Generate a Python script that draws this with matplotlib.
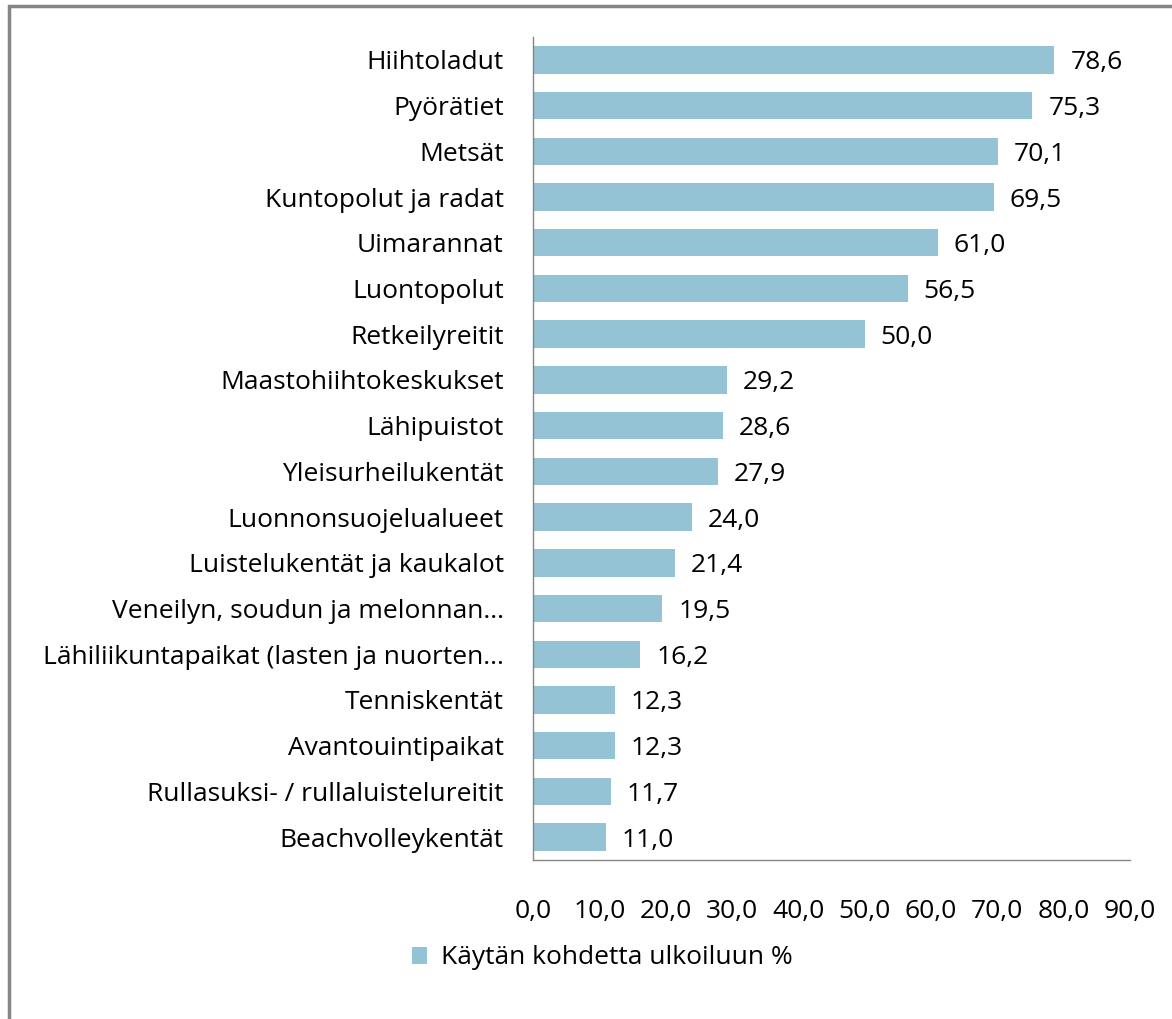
import numpy as np
import matplotlib.pyplot as plt
from matplotlib.patches import Rectangle

plt.rcParams['font.family'] = ['Open Sans', 'DejaVu Sans']

categories = [
    'Hiihtoladut', 'Pyörätiet', 'Metsät', 'Kuntopolut ja radat', 'Uimarannat',
    'Luontopolut', 'Retkeilyreitit', 'Maastohiihtokeskukset', 'Lähipuistot',
    'Yleisurheilukentät', 'Luonnonsuojelualueet', 'Luistelukentät ja kaukalot',
    'Veneilyn, soudun ja melonnan...', 'Lähiliikuntapaikat (lasten ja nuorten...',
    'Tenniskentät', 'Avantouintipaikat', 'Rullasuksi- / rullaluistelureitit',
    'Beachvolleykentät',
]
values = [78.6, 75.3, 70.1, 69.5, 61.0, 56.5, 50.0, 29.2, 28.6, 27.9, 24.0,
          21.4, 19.5, 16.2, 12.3, 12.3, 11.7, 11.0]
ticks = np.arange(0, 91, 10)
series_name = 'Käytän kohdetta ulkoiluun %'
bar_color = '#93C3D4'
fs = 19

fig = plt.figure(figsize=(11.72, 10.19), dpi=100)

# outer chart frame (left and top edges visible, rest off the picture)
fig.patches.append(Rectangle((9 / 1172, -0.1), 1.2, 1.1 - 8 / 1019 + 0.002,
                             transform=fig.transFigure, fill=False,
                             edgecolor='#868686', linewidth=2.5))

ax = fig.add_axes([533 / 1172, 1 - 860 / 1019, 597 / 1172, 823 / 1019])
y = np.arange(len(categories))
ax.barh(y, values, height=0.6, color=bar_color, label=series_name)
ax.set_ylim(len(categories) - 0.5, -0.5)
ax.set_xlim(0, 90)

for yi, v in zip(y, values):
    ax.text(v + 2.4, yi, f'{v:.1f}'.replace('.', ','), va='center_baseline',
            ha='left', fontsize=fs)

ax.set_yticks(y)
ax.set_yticklabels(categories, fontsize=fs, va='center_baseline')
ax.set_xticks(ticks)
ax.set_xticklabels([f'{t:.1f}'.replace('.', ',') for t in ticks], fontsize=fs)
ax.tick_params(axis='x', length=0, pad=28)
ax.tick_params(axis='y', length=0, pad=21)

for s in ['top', 'right']:
    ax.spines[s].set_visible(False)
for s in ['left', 'bottom']:
    ax.spines[s].set_color('#868686')
    ax.spines[s].set_linewidth(1)

fig.legend(loc='center', bbox_to_anchor=(602 / 1172, 1 - 958 / 1019),
           frameon=False, fontsize=fs, handlelength=0.6, handleheight=0.6,
           handletextpad=0.5)

fig.savefig('out.png', dpi=100)
